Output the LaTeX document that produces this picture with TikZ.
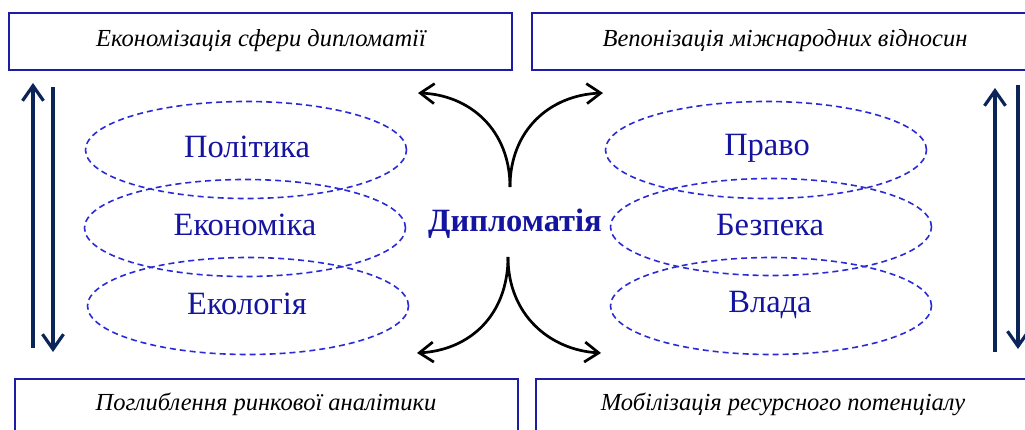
\documentclass[tikz,border=0pt]{standalone}
\usepackage{fontspec}
\setmainfont{Liberation Serif}
\usetikzlibrary{arrows.meta,shapes.geometric}
\definecolor{navyc}{HTML}{0B2559}
\definecolor{boxc}{HTML}{1C1CA8}
\definecolor{ellc}{HTML}{2A2AD6}
\definecolor{txtc}{HTML}{1414A0}
\tikzset{
  topbox/.style={draw=boxc, line width=1.7pt, fill=white},
  boxtext/.style={font=\fontsize{24.5}{28}\selectfont\itshape, text=black},
  ell/.style={draw=ellc, ellipse, dash pattern=on 6pt off 4pt, line width=1.6pt,
    minimum width=321pt, minimum height=97pt, inner sep=0pt},
  elltext/.style={font=\fontsize{32.5}{36}\selectfont, text=txtc},
  navyarr/.style={draw=navyc, line width=3.2pt, -{Straight Barb[length=15pt,width=21pt,line width=3.2pt]}},
  curvarr/.style={draw=black, line width=2.7pt, -{Straight Barb[length=14pt,width=20pt,line width=2.7pt]}},
}
\begin{document}
\begin{tikzpicture}[x=1pt,y=-1pt]
\useasboundingbox (0,0) rectangle (1025,430);
\clip (0,0) rectangle (1025,430);
% boxes
\draw[topbox] (9,13) rectangle (512,70);
\draw[topbox] (532,13) rectangle (1038,70);
\draw[topbox] (15,379) rectangle (518,440);
\draw[topbox] (536,379) rectangle (1030,440);
\node[boxtext] (t1) at (261,41) {Економізація сфери дипломатії};
\node[boxtext] (t2) at (785,41) {Вепонізація міжнародних відносин};
\node[boxtext] (t3) at (266,404) {Поглиблення ринкової аналітики};
\node[boxtext] (t4) at (783,404) {Мобілізація ресурсного потенціалу};
% ellipses
\node[ell] (l1) at (246,150) {};
\node[ell] (l2) at (245,228) {};
\node[ell] (l3) at (248,306) {};
\node[ell] (r1) at (766,150) {};
\node[ell] (r2) at (771,227) {};
\node[ell] (r3) at (771,306) {};
\node[elltext] (l1t) at (247,147) {Політика};
\node[elltext] (l2t) at (245,225) {Економіка};
\node[elltext] (l3t) at (247,304) {Екологія};
\node[elltext] (r1t) at (767,148) {Право};
\node[elltext] (r2t) at (770,225) {Безпека};
\node[elltext] (r3t) at (770,305) {Влада};
% centre
\node[font=\fontsize{32.5}{36}\selectfont\bfseries, text=txtc] (d) at (515,224) {Дипломатія};
\coordinate (dt) at (510,187);
\coordinate (db) at (508,257);
\coordinate (tl) at (418,93);
\coordinate (tr) at (603,93);
\coordinate (bl) at (417,353);
\coordinate (br) at (601,353);
\draw[curvarr] (dt) .. controls (510,130) and (470,95) .. (tl);
\draw[curvarr] (dt) .. controls (510,130) and (550,95) .. (tr);
\draw[curvarr] (db) .. controls (508,315) and (470,350) .. (bl);
\draw[curvarr] (db) .. controls (508,315) and (550,350) .. (br);
% side arrows
\coordinate (lu1) at (33,348); \coordinate (lu2) at (33,83);
\coordinate (ld1) at (53,87);  \coordinate (ld2) at (53,352);
\coordinate (ru1) at (995,352); \coordinate (ru2) at (995,88);
\coordinate (rd1) at (1018,85); \coordinate (rd2) at (1018,349);
\draw[navyarr] (lu1) -- (lu2);
\draw[navyarr] (ld1) -- (ld2);
\draw[navyarr] (ru1) -- (ru2);
\draw[navyarr] (rd1) -- (rd2);
\end{tikzpicture}
\end{document}
